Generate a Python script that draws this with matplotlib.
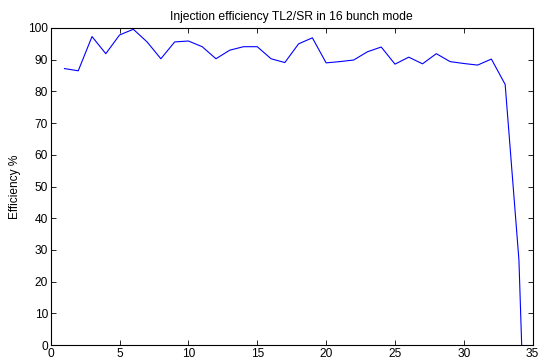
import matplotlib
matplotlib.use("Agg")
import matplotlib.pyplot as plt

plt.rcParams['font.family'] = ['Liberation Sans', 'DejaVu Sans']

x = list(range(1, 35)) + [34.2]
eff = [87.2, 86.5, 97.3, 91.9, 97.8, 99.6, 95.6, 90.3, 95.6, 95.9,
       94.1, 90.3, 93.0, 94.1, 94.1, 90.3, 89.1, 95.0, 96.9, 89.0,
       89.4, 89.9, 92.5, 94.0, 88.6, 90.8, 88.7, 91.9, 89.4, 88.8,
       88.3, 90.2, 82.2, 26.8, 0.0]
xticks = [0, 5, 10, 15, 20, 25, 30, 35]
yticks = list(range(0, 101, 10))

fig = plt.figure(figsize=(5.4, 3.61), dpi=100)
ax = fig.add_axes([50.7/540, 1-345/361, (532.7-50.7)/540, (345-28)/361])
ax.plot(x, eff, color=(0, 0, 1), lw=0.8)
ax.set_xlim(0, 35)
ax.set_ylim(0, 100)
ax.set_xticks(xticks)
ax.set_yticks(yticks)
ax.tick_params(direction='in', length=3.5, width=0.6, top=True, right=True,
               labelsize=8.6, pad=2)
for s in ax.spines.values():
    s.set_linewidth(0.8)
ax.set_title('Injection efficiency TL2/SR in 16 bunch mode', fontsize=8.7, pad=6)
ax.set_ylabel('Efficiency %', fontsize=8.6, labelpad=5)
fig.savefig('out.png', dpi=100)
